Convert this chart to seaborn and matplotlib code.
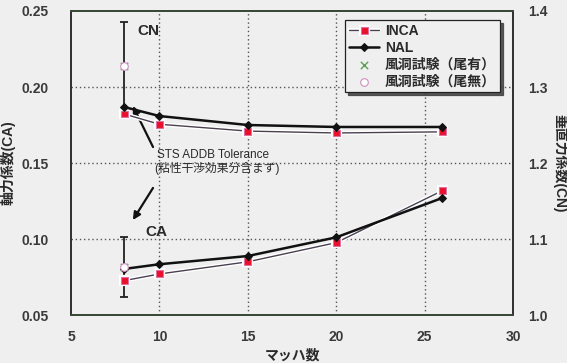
import matplotlib
matplotlib.use("Agg")
import matplotlib.pyplot as plt
import matplotlib.patheffects as pe
import seaborn as sns
import pandas as pd

# Mach numbers of the computed cases
mach = [8, 10, 15, 20, 26]

# Axial force coefficient (left axis)
ca_inca = [0.0726, 0.0770, 0.0850, 0.0976, 0.1318]
ca_nal = [0.0803, 0.0834, 0.0888, 0.1011, 0.1270]

# Normal force coefficient (right axis)
cn_inca = [1.2645, 1.2510, 1.2420, 1.2395, 1.2410]
cn_nal = [1.2737, 1.2618, 1.2500, 1.2474, 1.2474]

# Wind tunnel test at Mach 8 (with / without tail) and STS ADDB tolerance
wt_mach = [8]
wt_ca_tail = [0.0815]
wt_ca_notail = [0.0818]
wt_cn_tail = [1.3280]
wt_cn_notail = [1.3276]
tol_ca = 0.0197
tol_cn = 0.058

bg = "#EFEFEF"
txt = "#2a2a2a"
sns.set_theme(style="white")
plt.rcParams["font.family"] = ["Liberation Sans", "Noto Sans CJK JP", "DejaVu Sans"]
plt.rcParams["axes.unicode_minus"] = False

fig = plt.figure(figsize=(5.67, 3.63), dpi=100, facecolor=bg)
ax = fig.add_axes([0.1252, 0.1322, 0.7796, 0.8375])
ax.set_facecolor(bg)
ax2 = ax.twinx()

df_ca = pd.DataFrame({"M": mach, "INCA": ca_inca, "NAL": ca_nal})
df_cn = pd.DataFrame({"M": mach, "INCA": cn_inca, "NAL": cn_nal})

halo = [pe.Stroke(linewidth=3.0, foreground="white"), pe.Normal()]
inca_kw = dict(color="#4a4050", lw=1.0, marker="s", markersize=5,
               markerfacecolor="#e8102a", markeredgecolor="#e070a0",
               markeredgewidth=0.8, path_effects=halo, zorder=3)
nal_kw = dict(color="#111111", lw=1.8, marker="D", markersize=4.5,
              markerfacecolor="#111111", markeredgecolor="#111111", zorder=4)

for a, df in ((ax, df_ca), (ax2, df_cn)):
    sns.lineplot(data=df, x="M", y="INCA", ax=a, label="INCA", **inca_kw)
    sns.lineplot(data=df, x="M", y="NAL", ax=a, label="NAL", **nal_kw)

# Tolerance bars centred on the wind tunnel values
ax.errorbar(wt_mach, wt_ca_notail, yerr=tol_ca, fmt="none", ecolor="#222222",
            elinewidth=1.3, capsize=3, capthick=1.3, zorder=2)
ax2.errorbar(wt_mach, wt_cn_notail, yerr=tol_cn, fmt="none", ecolor="#222222",
             elinewidth=1.3, capsize=3, capthick=1.3, zorder=2)

for a, tail, notail in ((ax, wt_ca_tail, wt_ca_notail), (ax2, wt_cn_tail, wt_cn_notail)):
    sns.scatterplot(x=wt_mach, y=tail, ax=a, marker="x", s=28, color="#5aa050",
                    linewidth=1.0, label="風洞試験（尾有）", zorder=5)
    sns.scatterplot(x=wt_mach, y=notail, ax=a, marker="o", s=30, facecolor="white",
                    edgecolor="#d090c0", linewidth=0.8, label="風洞試験（尾無）", zorder=6)

ax.set_xlim(5, 30)
ax.set_ylim(0.05, 0.25)
ax2.set_ylim(1.0, 1.4)
ax.set_xticks([5, 10, 15, 20, 25, 30])
ax.set_yticks([0.05, 0.10, 0.15, 0.20, 0.25])
ax.set_yticklabels(["0.05", "0.10", "0.15", "0.20", "0.25"])
ax2.set_yticks([1.0, 1.1, 1.2, 1.3, 1.4])
ax2.set_yticklabels(["1.0", "1.1", "1.2", "1.3", "1.4"])

for v in [10, 15, 20, 25]:
    ax.axvline(v, color="#555555", lw=1.0, ls=(0, (1, 2)), zorder=1)
for v in [0.10, 0.15, 0.20]:
    ax.axhline(v, color="#555555", lw=1.0, ls=(0, (1, 2)), zorder=1)

tick_color = "#3a3a3a"
ax.tick_params(axis="both", length=0, labelsize=10, colors=tick_color)
ax.tick_params(axis="x", pad=11)
ax.tick_params(axis="y", pad=16)
ax2.tick_params(axis="y", length=0, labelsize=10, colors=tick_color, pad=11)
for lab in ax.get_xticklabels() + ax.get_yticklabels() + ax2.get_yticklabels():
    lab.set_fontweight("bold")

ax.set_xlabel("マッハ数", fontsize=10, color=txt, labelpad=3, fontweight="bold")
ax.set_ylabel("軸力係数(CA)", fontsize=10, color=txt, labelpad=4, fontweight="bold")
ax2.set_ylabel("垂直力係数(CN)", fontsize=10, color=txt, rotation=270, labelpad=14,
               fontweight="bold")

for a in (ax, ax2):
    for side in ("left", "right"):
        a.spines[side].set_color("#333333")
        a.spines[side].set_linewidth(1.4)
    for side in ("top", "bottom"):
        a.spines[side].set_color("#3a4a38")
        a.spines[side].set_linewidth(1.4)

ax.text(8.75, 0.2368, "CN", fontsize=11, color=txt, va="center", ha="left", fontweight="bold")
ax.text(9.2, 0.1046, "CA", fontsize=11, color=txt, va="center", ha="left", fontweight="bold")
ax.text(9.85, 0.1553, "STS ADDB Tolerance", fontsize=8.5, color=txt, va="center", ha="left")
ax.text(9.7, 0.1467, "(粘性干渉効果分含まず)", fontsize=8.5, color=txt, va="center", ha="left")

arrow = dict(arrowstyle="-|>", lw=1.6, color="#111111", mutation_scale=11, shrinkA=0, shrinkB=0)
ax.annotate("", xy=(8.5, 0.1875), xytext=(9.64, 0.1605), arrowprops=arrow, zorder=7)
ax.annotate("", xy=(8.5, 0.1125), xytext=(9.64, 0.1336), arrowprops=arrow, zorder=7)

h2, l2 = ax2.get_legend_handles_labels()
for a in (ax, ax2):
    if a.get_legend() is not None:
        a.get_legend().remove()
leg = ax2.legend(h2, l2, loc="upper right", bbox_to_anchor=(0.971, 0.971),
                 prop={"size": 10, "weight": "bold"}, frameon=True, fancybox=False,
                 shadow={"color": "#444444", "alpha": 0.9},
                 handlelength=2.2, handletextpad=0.4, borderpad=0.3,
                 labelspacing=0.2, borderaxespad=0)
leg.get_frame().set_edgecolor("#222222")
leg.get_frame().set_facecolor(bg)
leg.get_frame().set_linewidth(0.9)
for t in leg.get_texts():
    t.set_color(txt)
leg.set_zorder(10)

fig.savefig("out.png", dpi=100, facecolor=bg)
